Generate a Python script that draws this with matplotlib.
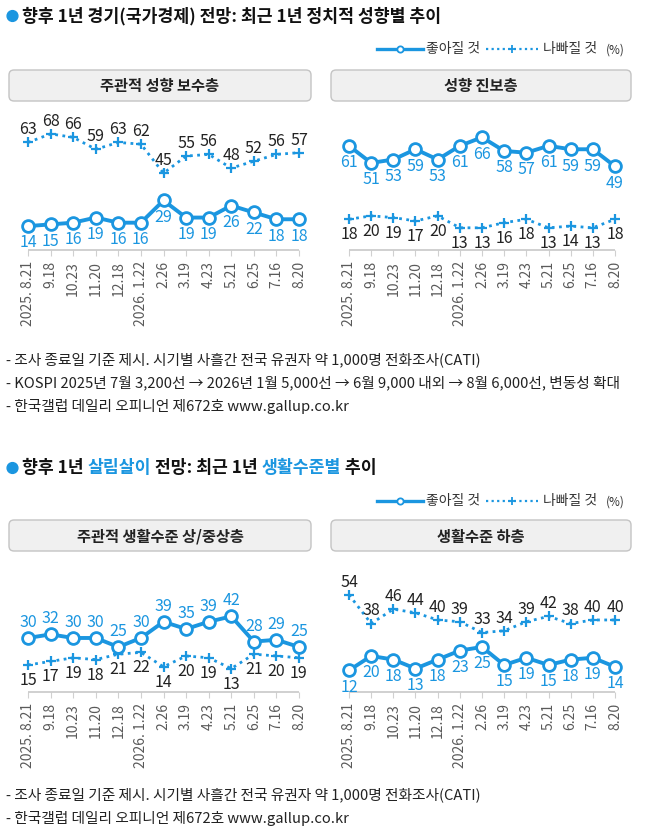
import matplotlib
matplotlib.use("Agg")
import matplotlib.pyplot as plt
from matplotlib.patches import FancyBboxPatch, Circle
import numpy as np

plt.rcParams['font.family'] = ['Noto Sans CJK KR', 'DejaVu Sans']

# ---------------- data ----------------
dates = ["2025. 8.21", "9.18", "10.23", "11.20", "12.18", "2026. 1.22", "2.26",
         "3.19", "4.23", "5.21", "6.25", "7.16", "8.20"]

cons_good = [14, 15, 16, 19, 16, 16, 29, 19, 19, 26, 22, 18, 18]
cons_bad = [63, 68, 66, 59, 63, 62, 45, 55, 56, 48, 52, 56, 57]
prog_good = [61, 51, 53, 59, 53, 61, 66, 58, 57, 61, 59, 59, 49]
prog_bad = [18, 20, 19, 17, 20, 13, 13, 16, 18, 13, 14, 13, 18]

high_good = [30, 32, 30, 30, 25, 30, 39, 35, 39, 42, 28, 29, 25]
high_bad = [15, 17, 19, 18, 21, 22, 14, 20, 19, 13, 21, 20, 19]
low_good = [12, 20, 18, 13, 18, 23, 25, 15, 19, 15, 18, 19, 14]
low_bad = [54, 38, 46, 44, 40, 39, 33, 34, 39, 42, 38, 40, 40]

panel_titles = ["주관적 성향 보수층", "성향 진보층", "주관적 생활수준 상/중상층", "생활수준 하층"]
legend_labels = ["좋아질 것", "나빠질 것", "(%)"]

BLUE = '#1B96E0'
W, H = 650, 838

fig = plt.figure(figsize=(W / 100, H / 100), dpi=100)

# overlay axes in pixel coords
ov = fig.add_axes([0, 0, 1, 1], zorder=0)
ov.set_xlim(0, W)
ov.set_ylim(H, 0)
ov.axis('off')


def px_axes(x0, x1, ytop, ybot):
    return fig.add_axes([x0 / W, 1 - ybot / H, (x1 - x0) / W, (ybot - ytop) / H], zorder=2)


def draw_panel(ax, good, bad, good_pos, bad_pos, ymax):
    x = np.arange(len(dates))
    ax.set_xlim(-0.6, len(dates) - 0.4)
    ax.set_ylim(0, ymax)
    for s in ax.spines.values():
        s.set_visible(False)
    ax.patch.set_alpha(0)
    ax.hlines(0, 0, len(dates) - 1, color='#c8c8c8', lw=1.2, clip_on=False)
    ax.set_yticks([])
    ax.set_xticks(x)
    ax.set_xticklabels(dates, rotation=90, va='top', ha='center', fontsize=10, color='#5a5a5a')
    ax.tick_params(axis='x', length=4, width=0.8, color='#d0d0d0', direction='out', pad=4)
    ax.plot(x, bad, color=BLUE, lw=2, ls=(0, (1, 1.6)), marker='+', ms=7, mew=1.6, clip_on=False, zorder=3)
    ax.plot(x, good, color=BLUE, lw=2.8, marker='o', ms=8.5, mfc='white', mec=BLUE, mew=2, clip_on=False, zorder=4)
    for xi, v in zip(x, good):
        if good_pos == 'below':
            ax.annotate(str(v), (xi, v), xytext=(0, -6), textcoords='offset points', ha='center', va='top',
                        fontsize=11.5, color=BLUE, annotation_clip=False)
        else:
            ax.annotate(str(v), (xi, v), xytext=(0, 5), textcoords='offset points', ha='center', va='bottom',
                        fontsize=11.5, color=BLUE, annotation_clip=False)
    for xi, v in zip(x, bad):
        if bad_pos == 'below':
            ax.annotate(str(v), (xi, v), xytext=(0, -5), textcoords='offset points', ha='center', va='top',
                        fontsize=11.5, color='#222222', annotation_clip=False)
        else:
            ax.annotate(str(v), (xi, v), xytext=(0, 3), textcoords='offset points', ha='center', va='bottom',
                        fontsize=11.5, color='#222222', annotation_clip=False)


def header_box(x0, x1, y0, y1, text):
    p = FancyBboxPatch((x0, y0), x1 - x0, y1 - y0, boxstyle="round,pad=0,rounding_size=5",
                       fc='#f0f0f0', ec='#c4c4c4', lw=1)
    ov.add_patch(p)
    ov.text((x0 + x1) / 2, (y0 + y1) / 2 + 1, text, ha='center', va='center', fontsize=11,
            fontweight='bold', color='#222222')


def legend(y):
    ov.plot([377, 423], [y, y], color=BLUE, lw=2.4)
    ov.plot([400], [y], marker='o', ms=4.5, mfc='white', mec=BLUE, mew=1.3)
    ov.text(426, y, legend_labels[0], ha='left', va='center', fontsize=10, color='#333333')
    ov.plot([486, 538], [y, y], color=BLUE, lw=1.6, ls=(0, (1, 1.5)))
    ov.plot([512], [y], marker='+', ms=6, mew=1.3, color=BLUE)
    ov.text(543, y, legend_labels[1], ha='left', va='center', fontsize=10, color='#333333')
    ov.text(606, y + 1, legend_labels[2], ha='left', va='center', fontsize=8.5, color='#333333')


def bullet(y):
    ov.add_patch(Circle((12.5, y), 5.4, color=BLUE))


def multi_text(x, y, parts, **kw):
    fig.canvas.draw()
    r = fig.canvas.get_renderer()
    inv = ov.transData.inverted()
    for s, c in parts:
        t = ov.text(x, y, s, color=c, ha='left', va='center', **kw)
        bb = t.get_window_extent(renderer=r)
        x = inv.transform((bb.x1, bb.y0))[0]


# ---------- section 1 ----------
bullet(16)
ov.text(22, 16, "향후 1년 경기(국가경제) 전망: 최근 1년 정치적 성향별 추이", ha='left', va='center',
        fontsize=12.4, fontweight='bold', color='#111111')
legend(49)
header_box(9, 311, 70, 101, panel_titles[0])
header_box(331, 631, 70, 101, panel_titles[1])

ax1 = px_axes(28 - 0.6 * 22.58, 299 + 0.6 * 22.58, 110, 250)
draw_panel(ax1, cons_good, cons_bad, 'below', 'above', 82)
ax2 = px_axes(349 - 0.6 * 22.17, 615 + 0.6 * 22.17, 110, 250)
draw_panel(ax2, prog_good, prog_bad, 'below', 'below', 82)

foot1 = ["- 조사 종료일 기준 제시. 시기별 사흘간 전국 유권자 약 1,000명 전화조사(CATI)",
         "- KOSPI 2025년 7월 3,200선 → 2026년 1월 5,000선 → 6월 9,000 내외 → 8월 6,000선, 변동성 확대",
         "- 한국갤럽 데일리 오피니언 제672호 www.gallup.co.kr"]
for i, s in enumerate(foot1):
    ov.text(6, 360 + i * 23, s, ha='left', va='center', fontsize=10.6, color='#222222')

# ---------- section 2 ----------
bullet(468)
legend(501)
header_box(9, 311, 520, 551, panel_titles[2])
header_box(331, 631, 520, 551, panel_titles[3])

ax3 = px_axes(28 - 0.6 * 22.58, 299 + 0.6 * 22.58, 560, 692)
draw_panel(ax3, high_good, high_bad, 'above', 'below', 73.3)
ax4 = px_axes(349 - 0.6 * 22.17, 615 + 0.6 * 22.17, 560, 692)
draw_panel(ax4, low_good, low_bad, 'below', 'above', 73.3)

foot2 = ["- 조사 종료일 기준 제시. 시기별 사흘간 전국 유권자 약 1,000명 전화조사(CATI)",
         "- 한국갤럽 데일리 오피니언 제672호 www.gallup.co.kr"]
for i, s in enumerate(foot2):
    ov.text(6, 795 + i * 23, s, ha='left', va='center', fontsize=10.6, color='#222222')

multi_text(22, 468, [("향후 1년 ", '#111111'), ("살림살이", BLUE), (" 전망: 최근 1년 ", '#111111'),
                     ("생활수준별", BLUE), (" 추이", '#111111')],
           fontsize=12.4, fontweight='bold')

fig.savefig("out.png", dpi=100, facecolor='white')
